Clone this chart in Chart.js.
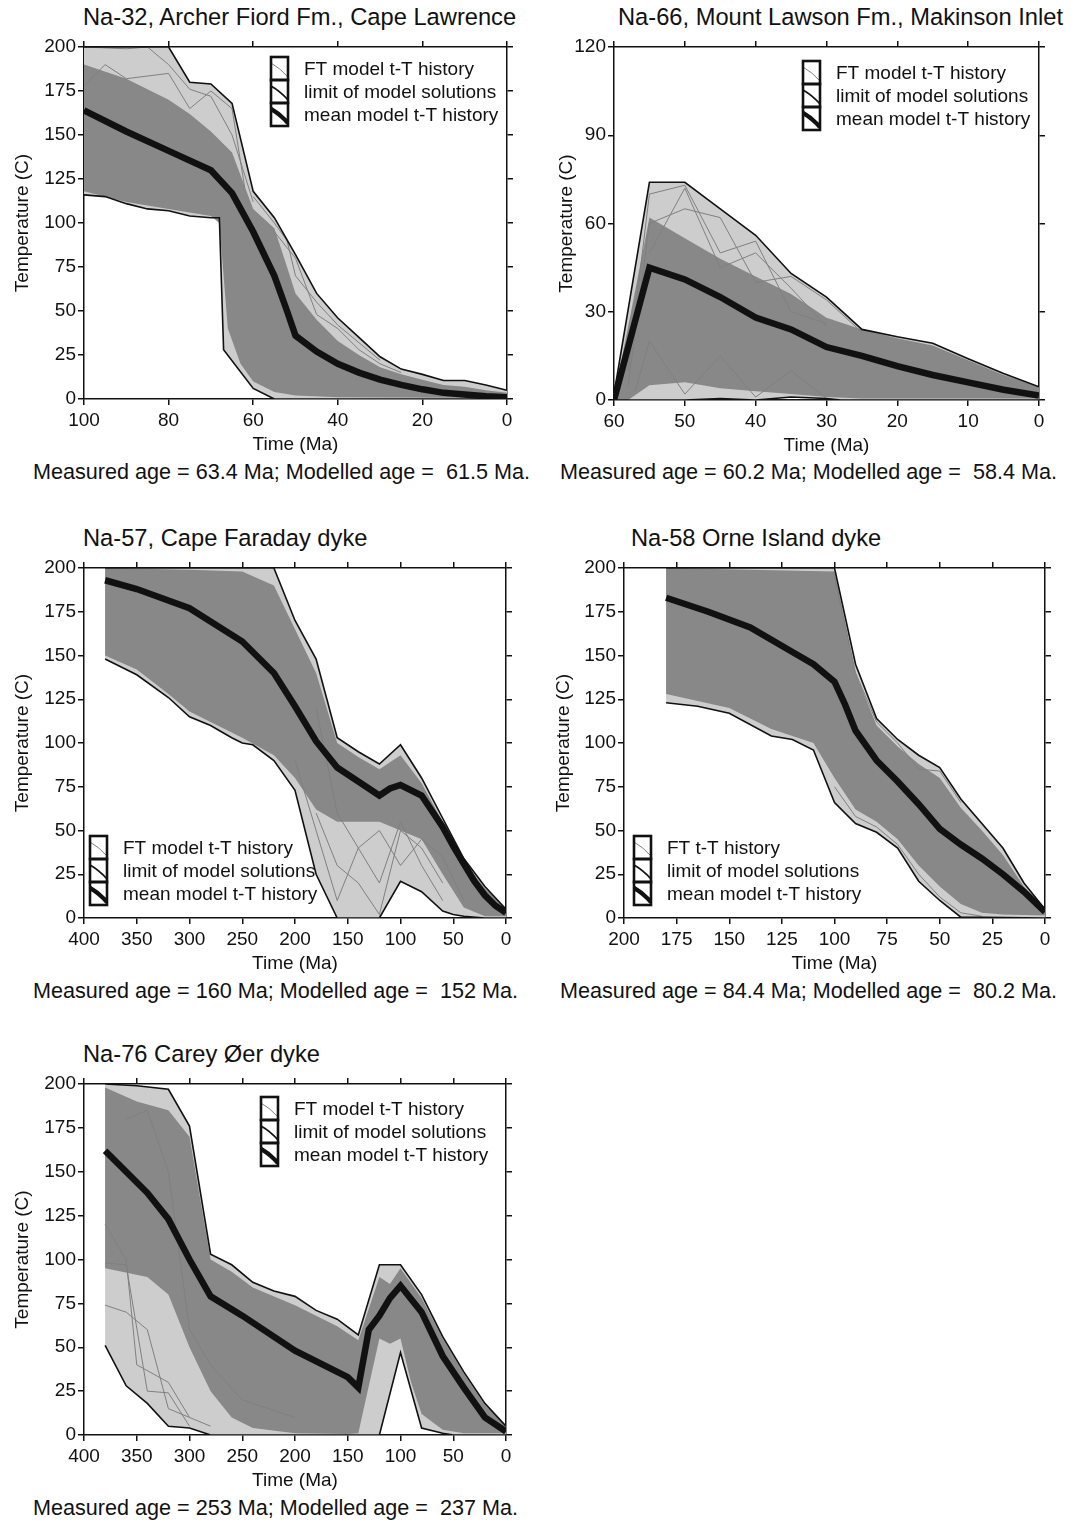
<!DOCTYPE html>
<html>
<head>
<meta charset="utf-8">
<script src="https://cdn.jsdelivr.net/npm/chart.js@4.4.0/dist/chart.umd.min.js"></script>
<style>
  body { margin: 0; width: 1076px; height: 1521px; background: #fff; position: relative; overflow: hidden;
         font-family: "Liberation Sans", Arial, sans-serif; color: #111; }
  .ttl, .cap { position: absolute; white-space: pre; line-height: 1; }
  .ttl { font-size: 23.7px; }
  .cap { font-size: 21.6px; }
  canvas { position: absolute; }
</style>
</head>
<body>
<div class="ttl" style="left:83px;top:6px">Na-32, Archer Fiord Fm., Cape Lawrence</div>
<div class="ttl" style="left:618px;top:6px">Na-66, Mount Lawson Fm., Makinson Inlet</div>
<div class="ttl" style="left:83px;top:527px">Na-57, Cape Faraday dyke</div>
<div class="ttl" style="left:631px;top:527px">Na-58 Orne Island dyke</div>
<div class="ttl" style="left:83px;top:1043px">Na-76 Carey Øer dyke</div>

<div class="cap" style="left:33px;top:461px">Measured age = 63.4 Ma; Modelled age =  61.5 Ma.</div>
<div class="cap" style="left:560px;top:461px">Measured age = 60.2 Ma; Modelled age =  58.4 Ma.</div>
<div class="cap" style="left:33px;top:980px">Measured age = 160 Ma; Modelled age =  152 Ma.</div>
<div class="cap" style="left:560px;top:980px">Measured age = 84.4 Ma; Modelled age =  80.2 Ma.</div>
<div class="cap" style="left:33px;top:1497px">Measured age = 253 Ma; Modelled age =  237 Ma.</div>

<canvas id="c1"></canvas>
<canvas id="c2"></canvas>
<canvas id="c3"></canvas>
<canvas id="c4"></canvas>
<canvas id="c5"></canvas>

<script>
/* t-T model histories, five samples — [time Ma, temperature C] pairs */

// Na-32, Archer Fiord Fm.
const na32Mean = [[100,164],[90,152],[80,141],[70,130],[65,117],[60,95],[55,70],[52,50],[50,36],[45,27],[40,20],[35,15],[30,11],[25,8],[20,5.5],[15,3.5],[10,2.5],[5,1.5],[0,1]];
const na32Upper = [[100,200],[80,200],[75,180],[70,179],[65,168],[60,118],[55,103],[50,82],[45,60],[40,46],[35,35],[30,24],[25,17],[20,14],[15,10.5],[10,10.5],[5,8],[0,5]];
const na32Lower = [[100,116],[95,115],[90,111],[85,108],[80,107],[75,104],[70,103],[68,103],[67,28],[60,6],[55,0],[0,0]];
const na32CoreTop = [[100,190],[90,182],[80,170],[75,162],[70,152],[65,140],[60,108],[55,97],[52,75],[50,60],[45,45],[40,33],[35,25],[30,18],[25,14],[20,11],[15,8],[10,7],[5,5],[0,3.5]];
const na32CoreBot = [[100,118],[90,112],[80,108],[70,104],[68,100],[66,40],[63,20],[60,10],[55,4],[50,2],[40,1],[0,0.5]];
const na32Runs = [
  [[100,200],[90,199],[85,200],[80,190],[75,176],[70,172],[65,150],[60,112]],
  [[100,178],[95,190],[90,182],[80,185],[75,165],[70,175],[65,165],[62,120]],
  [[60,115],[55,100],[52,90],[50,70],[45,55],[40,42],[35,32],[30,22]],
  [[55,95],[50,80],[45,48],[40,40],[35,28],[30,20],[25,15]],
];

// Na-66, Mount Lawson Fm.
const na66Mean = [[60,0],[55,45],[50,41],[45,35],[40,28],[35,24],[30,18],[25,15],[20,11.5],[15,8.5],[10,6],[5,3.5],[0,1.5]];
const na66Upper = [[60,2],[55,74],[50,74],[45,65],[40,56],[35,43],[30,35],[25,24],[20,21.5],[15,19.3],[10,14],[5,9],[0,4.5]];
const na66Lower = [[60,0],[50,0],[45,0.5],[40,0],[35,1],[30,0.5],[28,0],[0,0]];
const na66CoreTop = [[60,1],[58,25],[55,62],[50,55],[45,48],[40,42],[35,36],[30,28],[25,24],[20,21],[15,18.5],[10,13.5],[5,8.5],[0,4.5]];
const na66CoreBot = [[60,0],[58,0],[55,5],[50,6],[45,4],[40,3],[35,2],[30,1],[25,0.5],[0,0.5]];
const na66Runs = [
  [[58,10],[55,70],[50,73],[45,50],[40,54],[35,30],[30,26]],
  [[58,5],[55,60],[50,65],[45,62],[40,40],[35,42],[30,34],[25,23]],
  [[55,50],[50,72],[45,45],[40,50],[35,38],[30,25]],
  [[57,3],[55,20],[50,2],[45,15],[40,1],[35,10],[30,0.5]],
];

// Na-57, Cape Faraday dyke
const na57Mean = [[380,193],[350,188],[300,177],[250,158],[220,140],[200,121],[180,101],[160,86],[140,78],[120,70],[110,74],[100,76],[80,70],[60,52],[50,41],[40,31],[30,21],[20,13],[10,7],[0,3]];
const na57Upper = [[380,200],[220,200],[200,170],[180,148],[160,103],[140,95],[120,88],[100,99],[80,80],[60,57],[40,34],[20,18],[0,5]];
const na57Lower = [[380,148],[350,139],[320,126],[300,115],[280,110],[260,103],[250,100],[240,99],[220,90],[200,73],[180,25],[160,0],[120,0],[100,21],[80,15],[60,4],[50,2],[40,1],[20,0],[0,0]];
const na57CoreTop = [[380,200],[300,199],[250,198],[220,190],[200,165],[180,140],[160,100],[140,92],[120,85],[100,93],[80,77],[60,55],[40,32],[20,17],[0,5]];
const na57CoreBot = [[380,150],[350,142],[320,128],[300,118],[280,112],[250,103],[220,93],[200,80],[180,62],[160,55],[140,55],[120,55],[100,50],[80,45],[60,25],[40,6],[20,1],[0,1]];
const na57Runs = [
  [[180,60],[160,30],[140,20],[120,2],[100,50],[80,40],[60,20]],
  [[200,90],[180,50],[160,10],[140,40],[120,20],[100,55],[80,30],[60,10]],
  [[180,120],[160,60],[140,40],[120,50],[100,30],[80,45],[60,35],[40,10]],
];

// Na-58, Orne Island dyke
const na58Mean = [[180,183],[160,175],[140,166],[120,152],[110,145],[100,135],[95,122],[90,107],[80,90],[70,78],[60,65],[50,51],[40,42],[30,34],[20,25],[10,15],[0,3.5]];
const na58Upper = [[180,200],[100,200],[90,145],[80,114],[70,102],[60,93],[50,86],[40,68],[30,54],[20,40],[10,20],[0,5]];
const na58Lower = [[180,123],[165,121],[150,117],[130,104],[120,102],[110,96],[100,66],[90,54],[80,49],[70,40],[60,21],[50,10],[40,0.5],[0,0]];
const na58CoreTop = [[180,200],[100,198],[90,140],[80,110],[70,98],[60,88],[50,80],[40,63],[30,50],[20,36],[10,18],[0,5]];
const na58CoreBot = [[180,128],[150,120],[130,108],[110,100],[100,80],[90,62],[80,55],[70,45],[60,30],[50,18],[40,8],[30,3],[20,2],[0,1.5]];
const na58Runs = [
  [[100,195],[90,140],[80,112],[70,100],[60,85],[50,84],[40,66]],
  [[100,75],[90,58],[80,52],[70,42],[60,25],[50,12],[40,3],[30,1]],
];

// Na-76, Carey Øer dyke
const na76Mean = [[380,162],[360,150],[340,138],[320,123],[300,100],[280,79],[250,68],[200,48],[150,33],[140,27],[130,60],[120,68],[110,78],[100,85],[80,70],[60,45],[40,27],[20,10],[0,2]];
const na76Upper = [[380,200],[350,199],[320,197],[300,176],[280,103],[260,97],[240,87],[220,82],[200,79],[180,71],[160,66],[140,57],[120,97],[100,97],[80,80],[60,56],[40,36],[20,18],[0,5]];
const na76Lower = [[380,51],[360,28],[340,18],[320,5],[300,4],[280,0],[120,0],[100,47],[80,4],[60,1],[50,0],[0,0]];
const na76CoreTop = [[380,198],[350,190],[320,185],[300,170],[280,100],[260,93],[240,84],[200,74],[160,62],[140,54],[120,90],[110,86],[100,95],[80,78],[60,55],[40,35],[20,17],[0,5]];
const na76CoreBot = [[380,95],[340,90],[320,80],[300,50],[280,25],[260,10],[240,4],[200,1],[150,0.5],[140,1],[130,28],[120,55],[110,52],[100,55],[90,30],[80,12],[60,3],[40,1],[0,1]];
const na76Runs = [
  [[380,98],[360,97],[340,25],[320,24],[300,5]],
  [[380,74],[360,70],[340,60],[320,15],[300,10]],
  [[380,120],[360,100],[350,40],[320,30],[300,10],[280,5]],
  [[360,180],[340,185],[320,150],[300,60],[280,40],[250,20],[200,10]],
];

const LEGEND_FULL = ["FT model t-T history", "limit of model solutions", "mean model t-T history"];
const LEGEND_SHORT = ["FT t-T history", "limit of model solutions", "mean model t-T history"];

const INK = "#111", GREY = "#808080", CORE = "#888888", HALO = "#cdcdcd";
const FONT = "'Liberation Sans', Arial, sans-serif";

// page geometry of each plot frame (l/r/t/b), y-axis band width and legend corner
const PANELS = [
  { id: "c1", mean: na32Mean, upper: na32Upper, lower: na32Lower, coreTop: na32CoreTop, coreBot: na32CoreBot, runs: na32Runs,
    xMax: 100, xStep: 20, yMax: 200, yStep: 25, l: 84, r: 507, t: 47, b: 399, yW: 73, leg: [271, 57], labels: LEGEND_FULL },
  { id: "c2", mean: na66Mean, upper: na66Upper, lower: na66Lower, coreTop: na66CoreTop, coreBot: na66CoreBot, runs: na66Runs,
    xMax: 60, xStep: 10, yMax: 120, yStep: 30, l: 614, r: 1039, t: 47, b: 400, yW: 59, leg: [803, 61], labels: LEGEND_FULL },
  { id: "c3", mean: na57Mean, upper: na57Upper, lower: na57Lower, coreTop: na57CoreTop, coreBot: na57CoreBot, runs: na57Runs,
    xMax: 400, xStep: 50, yMax: 200, yStep: 25, l: 84, r: 506, t: 568, b: 918, yW: 73, leg: [90, 836], labels: LEGEND_FULL },
  { id: "c4", mean: na58Mean, upper: na58Upper, lower: na58Lower, coreTop: na58CoreTop, coreBot: na58CoreBot, runs: na58Runs,
    xMax: 200, xStep: 25, yMax: 200, yStep: 25, l: 624, r: 1045, t: 568, b: 918, yW: 72, leg: [634, 836], labels: LEGEND_SHORT },
  { id: "c5", mean: na76Mean, upper: na76Upper, lower: na76Lower, coreTop: na76CoreTop, coreBot: na76CoreBot, runs: na76Runs,
    xMax: 400, xStep: 50, yMax: 200, yStep: 25, l: 84, r: 506, t: 1084, b: 1435, yW: 73, leg: [261, 1097], labels: LEGEND_FULL },
];

const PAD_T = 8, PAD_R = 8, TOP_H = 6, RIGHT_W = 6, BOT_H = 57;

const pts = (arr) => arr.map(([t, c]) => ({ x: t, y: c }));

// boxed legend with the three line samples, drawn over the data like the original
const ttLegend = {
  id: "ttLegend",
  afterDatasetsDraw(chart, args, o) {
    const ctx = chart.ctx, w = 17, h = 23;
    const strokes = [[GREY, 1], [INK, 1.6], [INK, 4.5]];
    ctx.save();
    o.labels.forEach((label, i) => {
      const x = o.x, top = o.y + i * h;
      ctx.save();
      ctx.beginPath(); ctx.rect(x, top, w, h); ctx.clip();
      ctx.beginPath();
      ctx.moveTo(x, top + 6);
      ctx.quadraticCurveTo(x + 9, top + 11, x + w, top + h - 3);
      ctx.strokeStyle = strokes[i][0]; ctx.lineWidth = strokes[i][1];
      ctx.stroke();
      ctx.restore();
      ctx.strokeStyle = INK; ctx.lineWidth = 2.6;
      ctx.strokeRect(x, top, w, h);
      ctx.fillStyle = INK;
      ctx.font = "19px " + FONT;
      ctx.textBaseline = "middle";
      ctx.fillText(label, x + w + 16, top + h / 2 + 1);
    });
    ctx.restore();
  },
};

function scales(p) {
  const tickFont = { family: FONT, size: 19 };
  const grid = { drawOnChartArea: false, color: INK, lineWidth: 1.5, tickLength: 6 };
  const border = { color: INK, width: 1.5 };
  return {
    x: { type: "linear", position: "bottom", min: 0, max: p.xMax, reverse: true, grid, border,
         ticks: { stepSize: p.xStep, font: tickFont, color: INK, padding: 4, maxRotation: 0, autoSkip: false },
         title: { display: true, text: "Time (Ma)", font: tickFont, color: INK, padding: 0 },
         afterFit: (s) => { s.height = BOT_H; } },
    x2: { type: "linear", position: "top", min: 0, max: p.xMax, reverse: true, grid, border,
          ticks: { stepSize: p.xStep, display: false }, afterFit: (s) => { s.height = TOP_H; } },
    y: { type: "linear", position: "left", min: 0, max: p.yMax, grid, border,
         ticks: { stepSize: p.yStep, font: tickFont, color: INK, padding: 2 },
         title: { display: true, text: "Temperature (C)", font: tickFont, color: INK, padding: 0 },
         afterFit: (s) => { s.width = p.yW; } },
    y2: { type: "linear", position: "right", min: 0, max: p.yMax, grid, border,
          ticks: { stepSize: p.yStep, display: false }, afterFit: (s) => { s.width = RIGHT_W; } },
  };
}

function datasets(p) {
  const line = (arr, color, width, order) => ({ data: pts(arr), borderColor: color, borderWidth: width, fill: false, order });
  const band = (arr, fill, bg, order) => ({ data: pts(arr), borderWidth: 0, borderColor: "transparent", fill, backgroundColor: bg, order });
  return [
    line(p.mean, INK, 6.5, 0),
    line(p.upper, INK, 1.6, 1),
    line(p.lower, INK, 1.6, 1),
    ...p.runs.map((r) => line(r, GREY, 1, 2)),
    band(p.coreTop, "+1", CORE, 3),
    band(p.coreBot, false, CORE, 3),
    band(p.upper, "+1", HALO, 4),
    band(p.lower, false, HALO, 4),
  ];
}

PANELS.forEach((p) => {
  const cv = document.getElementById(p.id);
  const left = p.l - p.yW, top = p.t - TOP_H - PAD_T;
  const width = p.yW + (p.r - p.l) + RIGHT_W + PAD_R;
  const height = PAD_T + TOP_H + (p.b - p.t) + BOT_H;
  cv.style.left = left + "px"; cv.style.top = top + "px";
  cv.width = width; cv.height = height;
  cv.style.width = width + "px"; cv.style.height = height + "px";

  new Chart(cv, {
    type: "line",
    data: { datasets: datasets(p) },
    options: {
      responsive: false, animation: false, devicePixelRatio: 1,
      layout: { padding: { top: PAD_T, right: PAD_R, left: 0, bottom: 0 } },
      elements: { point: { radius: 0 }, line: { tension: 0 } },
      plugins: {
        legend: { display: false }, tooltip: { enabled: false },
        ttLegend: { x: p.leg[0] - left, y: p.leg[1] - top, labels: p.labels },
      },
      scales: scales(p),
    },
    plugins: [ttLegend],
  });
});
</script>
</body>
</html>
